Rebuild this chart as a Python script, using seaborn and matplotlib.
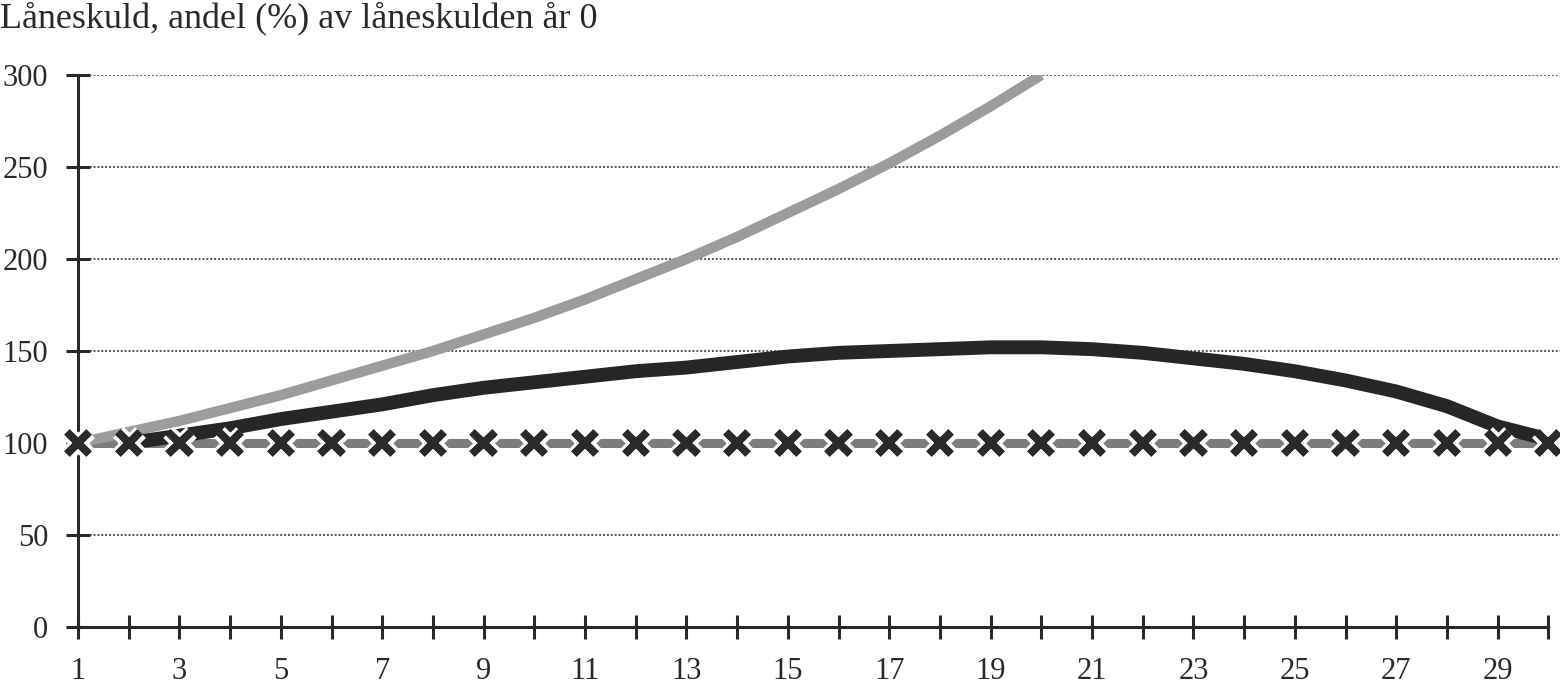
import matplotlib
matplotlib.use("Agg")
import matplotlib.pyplot as plt
import matplotlib.patheffects as pe
import seaborn as sns
import pandas as pd

years = list(range(1, 31))
rising_years = list(range(1, 21))
rising = [100, 106, 112, 119, 126, 134, 142, 150, 159, 168,
          178, 189, 200, 212, 225, 238, 252, 267, 283, 300]
arched_years = list(range(2, 31))
arched = [100, 104, 108, 113, 117, 121, 126, 130, 133,
          136, 139, 141, 144, 147, 149, 150, 151, 152, 152,
          151, 149, 146, 143, 139, 134, 128, 120, 109, 102]
flat = [100] * 30

title = "Låneskuld, andel (%) av låneskulden år 0"
y_ticks = [0, 50, 100, 150, 200, 250, 300]

sns.set_style("white")
plt.rcParams["font.family"] = ["Liberation Serif", "DejaVu Serif"]

fig = plt.figure(figsize=(15.6, 6.86), dpi=100)
ax = fig.add_axes([0.05, 0.086, 0.95, 0.8047])

df_flat = pd.DataFrame({"år": years, "v": flat})
df_rise = pd.DataFrame({"år": rising_years, "v": rising})
df_arch = pd.DataFrame({"år": arched_years, "v": arched})

# connectors of the flat series
sns.lineplot(data=df_flat, x="år", y="v", ax=ax, color="#7c7c7c", linewidth=6.5,
             solid_capstyle="butt", zorder=2)
sns.lineplot(data=df_rise, x="år", y="v", ax=ax, color="#9c9c9c", linewidth=7.5,
             solid_capstyle="butt", zorder=3)
sns.lineplot(data=df_arch, x="år", y="v", ax=ax, color="#262626", linewidth=10,
             solid_capstyle="butt", zorder=4)
# X markers on top
ax.plot(df_flat["år"], df_flat["v"], linestyle="none", marker="x", markersize=16,
        markeredgewidth=5.5, color="#2a2a2a", zorder=5, clip_on=False,
        path_effects=[pe.withStroke(linewidth=11, foreground="white"), pe.Normal()])

ax.set_xlim(1, 30.23)
ax.set_ylim(0, 300)
ax.set_xticks(years)
ax.set_xticklabels([str(y) if y % 2 == 1 else "" for y in years])
ax.set_yticks(y_ticks)
ax.set_yticklabels([str(v) for v in y_ticks])

ax.set_xlabel("")
ax.set_ylabel("")

for s in ["top", "right"]:
    ax.spines[s].set_visible(False)
for s in ["left", "bottom"]:
    ax.spines[s].set_linewidth(2.2)
    ax.spines[s].set_color("#2a2a2a")
ax.spines["bottom"].set_bounds(1, 30)

ax.tick_params(axis="both", direction="inout", length=17, width=2.2, color="#2a2a2a",
               labelsize=22, labelcolor="#2a2a2a", pad=13, bottom=True, left=True)

ax.set_axisbelow(True)
ax.yaxis.grid(True, linestyle=(0, (1, 1)), color="#555555", linewidth=1.4)
for gl in ax.get_ygridlines()[:1]:
    gl.set_visible(False)

fig.text(0.0, 0.997, title, ha="left", va="top", fontsize=26, color="#2a2a2a")

fig.savefig("out.png", dpi=100)
